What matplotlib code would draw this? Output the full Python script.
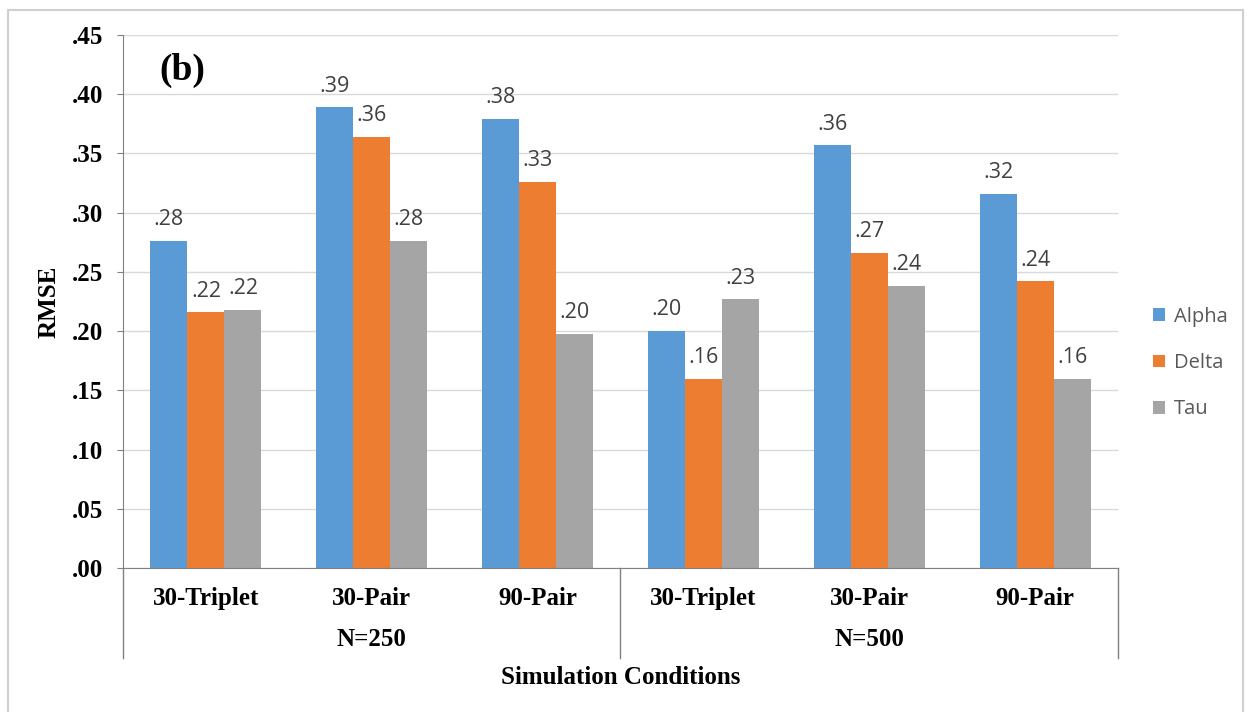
import matplotlib.pyplot as plt
import numpy as np
from matplotlib.lines import Line2D

# Data
conditions = ["30-Triplet", "30-Pair", "90-Pair", "30-Triplet", "30-Pair", "90-Pair"]
sample_groups = ["N=250", "N=500"]
series_names = ["Alpha", "Delta", "Tau"]
alpha = [0.276, 0.389, 0.379, 0.200, 0.357, 0.316]
delta = [0.216, 0.364, 0.326, 0.160, 0.266, 0.242]
tau = [0.218, 0.276, 0.198, 0.227, 0.238, 0.160]
y_ticks = [0.00, 0.05, 0.10, 0.15, 0.20, 0.25, 0.30, 0.35, 0.40, 0.45]

colors = ["#5B9BD5", "#ED7D31", "#A5A5A5"]
serif = "Liberation Serif"
sans = "Open Sans"

fig = plt.figure(figsize=(12.5, 7.12), dpi=100)
ax = fig.add_axes([0.0984, 0.2022, 0.7960, 0.7486])

x = np.arange(len(conditions))
width = 0.223
for i, (name, vals) in enumerate(zip(series_names, [alpha, delta, tau])):
    pos = x + (i - 1) * width
    ax.bar(pos, vals, width, color=colors[i], label=name, zorder=2)
    for px, v in zip(pos, vals):
        ax.text(px, v + 0.009, f"{v:.2f}".lstrip("0"), ha="center", va="bottom",
                fontsize=15.5, family=sans, color="#404040")

ax.set_xlim(-0.5, len(conditions) - 0.5)
ax.set_ylim(0, 0.45)
ax.set_yticks(y_ticks)
ax.set_yticklabels([f"{t:.2f}".lstrip("0") for t in y_ticks],
                   fontsize=18, family=serif, fontweight="bold")
ax.yaxis.grid(True, color="#D9D9D9", linewidth=1, zorder=0)
ax.set_axisbelow(True)

ax.set_xticks(x)
ax.set_xticklabels(conditions, fontsize=18, family=serif, fontweight="bold")
ax.tick_params(axis="x", length=0, pad=14)
ax.tick_params(axis="y", length=4.5, color="#808080", pad=10)

for side in ["top", "right"]:
    ax.spines[side].set_visible(False)
for side in ["left", "bottom"]:
    ax.spines[side].set_color("#808080")

# group separators below the axis
trans = ax.get_xaxis_transform()
for sx in [-0.5, 2.5, 5.5]:
    ax.add_line(Line2D([sx, sx], [0, -0.169], transform=trans, color="#808080",
                       linewidth=1, clip_on=False))
for gx, g in zip([1, 4], sample_groups):
    ax.text(gx, -0.135, g, transform=trans, ha="center", va="center",
            fontsize=18, family=serif, fontweight="bold")
ax.text(2.5, -0.205, "Simulation Conditions", transform=trans, ha="center",
        va="center", fontsize=18, family=serif, fontweight="bold")

ax.set_ylabel("RMSE", fontsize=18, family=serif, fontweight="bold", labelpad=8)
ax.text(-0.145, 0.42, "(b)", ha="center", va="center", fontsize=27,
        family=serif, fontweight="bold")

leg = fig.legend(loc="center left", bbox_to_anchor=(0.908, 0.49), frameon=False,
                 prop={"family": sans, "size": 14.5}, handlelength=0.6,
                 handleheight=0.6, handletextpad=0.45, labelspacing=1.3)
for t in leg.get_texts():
    t.set_color("#595959")

# outer chart border
for xs, ys in [([0.0064, 0.0064], [0, 0.986]), ([0.0064, 0.9944], [0.986, 0.986]),
               ([0.9944, 0.9944], [0, 0.986])]:
    fig.add_artist(Line2D(xs, ys, transform=fig.transFigure, color="#D0D0D0",
                          linewidth=1.5))

fig.savefig("out.png", dpi=100)
